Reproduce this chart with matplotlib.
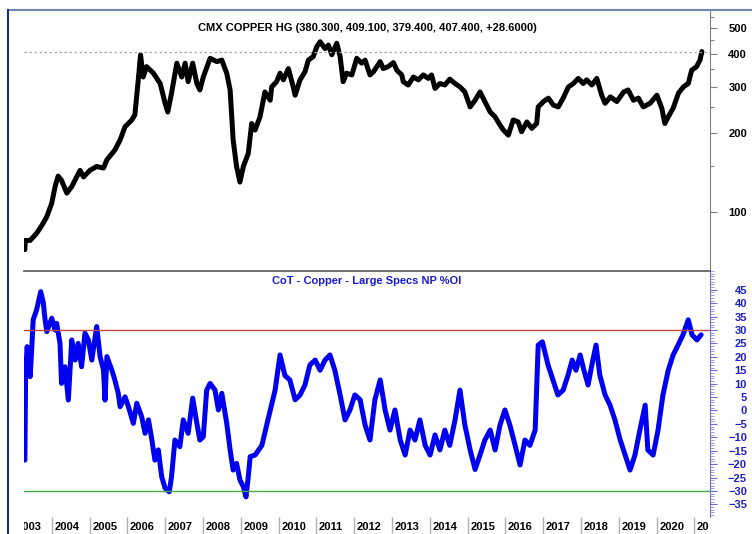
import matplotlib
matplotlib.use('Agg')
import matplotlib.pyplot as plt
import matplotlib.ticker as plticker
from matplotlib.lines import Line2D
from matplotlib.transforms import Bbox, TransformedBbox, blended_transform_factory

plt.rcParams['font.family'] = ['Liberation Sans', 'DejaVu Sans']
plt.rcParams['font.weight'] = 'bold'

# weekly-ish copper close (cents/lb), decimal years
px_t = [2003.29, 2003.30, 2003.43, 2003.60, 2003.74, 2003.87, 2004.00, 2004.09, 2004.17, 2004.26,
        2004.40, 2004.53, 2004.75, 2004.84, 2005.01, 2005.19, 2005.37, 2005.46, 2005.67, 2005.81,
        2005.94, 2006.12, 2006.20, 2006.29, 2006.35, 2006.42, 2006.51, 2006.69, 2006.87, 2007.00,
        2007.07, 2007.17, 2007.31, 2007.44, 2007.53, 2007.61, 2007.73, 2007.84, 2007.92, 2008.01,
        2008.19, 2008.37, 2008.50, 2008.63, 2008.72, 2008.80, 2008.89, 2008.98, 2009.07, 2009.20,
        2009.29, 2009.38, 2009.51, 2009.64, 2009.78, 2009.82, 2009.95, 2010.04, 2010.13, 2010.26,
        2010.39, 2010.44, 2010.57, 2010.70, 2010.79, 2010.92, 2011.01, 2011.10, 2011.23, 2011.32,
        2011.41, 2011.54, 2011.63, 2011.71, 2011.80, 2011.94, 2012.07, 2012.20, 2012.29, 2012.42,
        2012.51, 2012.69, 2012.77, 2012.90, 2013.04, 2013.13, 2013.26, 2013.30, 2013.43, 2013.57,
        2013.70, 2013.83, 2013.96, 2014.05, 2014.14, 2014.27, 2014.40, 2014.53, 2014.67, 2014.80,
        2014.93, 2015.07, 2015.20, 2015.33, 2015.46, 2015.60, 2015.73, 2015.86, 2015.95, 2016.08,
        2016.21, 2016.34, 2016.43, 2016.57, 2016.70, 2016.83, 2016.87, 2017.01, 2017.14, 2017.27,
        2017.40, 2017.53, 2017.67, 2017.80, 2017.93, 2018.06, 2018.15, 2018.29, 2018.42, 2018.55,
        2018.64, 2018.78, 2018.95, 2019.13, 2019.25, 2019.39, 2019.52, 2019.65, 2019.83, 2020.01,
        2020.14, 2020.22, 2020.31, 2020.44, 2020.58, 2020.71, 2020.84, 2020.93, 2021.06, 2021.15,
        2021.20]
px = [72, 78, 78, 83, 89, 96, 108, 125, 137, 132,
      118, 125, 144, 136, 144, 149, 147, 158, 172, 188,
      211, 224, 234, 318, 396, 326, 357, 337, 308, 259,
      240, 283, 368, 326, 368, 313, 368, 308, 291, 326,
      384, 373, 378, 337, 291, 188, 149, 130, 149, 167,
      217, 205, 230, 286, 266, 299, 313, 337, 318, 351,
      299, 278, 318, 341, 378, 390, 424, 444, 418, 431,
      396, 438, 390, 313, 337, 332, 384, 368, 378, 332,
      341, 373, 351, 357, 370, 346, 332, 313, 304, 326,
      318, 332, 322, 332, 295, 308, 304, 320, 308, 299,
      286, 251, 266, 286, 263, 240, 230, 214, 205, 196,
      224, 220, 202, 220, 208, 217, 251, 263, 271, 255,
      251, 271, 299, 308, 322, 308, 318, 304, 322, 278,
      259, 274, 263, 286, 291, 266, 271, 251, 259, 278,
      248, 217, 230, 248, 283, 299, 308, 346, 357, 378,
      407.4]
last_px = 407.4

# CoT large speculators net position, % of open interest
cot_t = [2003.29, 2003.31, 2003.35, 2003.43, 2003.47, 2003.51, 2003.60, 2003.71, 2003.78, 2003.82,
         2003.87, 2004.00, 2004.09, 2004.13, 2004.22, 2004.26, 2004.35, 2004.44, 2004.53, 2004.62,
         2004.70, 2004.79, 2004.88, 2004.97, 2005.06, 2005.19, 2005.28, 2005.37, 2005.41, 2005.46,
         2005.59, 2005.67, 2005.76, 2005.81, 2005.94, 2006.03, 2006.16, 2006.25, 2006.38, 2006.47,
         2006.56, 2006.65, 2006.73, 2006.82, 2006.91, 2007.00, 2007.11, 2007.17, 2007.26, 2007.39,
         2007.48, 2007.61, 2007.73, 2007.84, 2007.92, 2008.01, 2008.10, 2008.19, 2008.32, 2008.41,
         2008.50, 2008.63, 2008.72, 2008.80, 2008.89, 2008.98, 2009.07, 2009.14, 2009.20, 2009.25,
         2009.38, 2009.56, 2009.72, 2009.91, 2010.04, 2010.17, 2010.30, 2010.44, 2010.57, 2010.70,
         2010.83, 2010.97, 2011.10, 2011.23, 2011.36, 2011.49, 2011.63, 2011.76, 2011.89, 2012.02,
         2012.16, 2012.29, 2012.42, 2012.55, 2012.69, 2012.82, 2012.95, 2013.08, 2013.22, 2013.35,
         2013.48, 2013.61, 2013.74, 2013.88, 2014.01, 2014.14, 2014.27, 2014.40, 2014.53, 2014.67,
         2014.80, 2014.93, 2015.07, 2015.20, 2015.33, 2015.46, 2015.60, 2015.73, 2015.86, 2015.99,
         2016.12, 2016.26, 2016.39, 2016.52, 2016.65, 2016.79, 2016.87, 2016.98, 2017.13, 2017.26,
         2017.39, 2017.53, 2017.66, 2017.77, 2017.87, 2017.98, 2018.08, 2018.19, 2018.29, 2018.40,
         2018.50, 2018.64, 2018.77, 2018.90, 2019.04, 2019.17, 2019.30, 2019.43, 2019.56, 2019.70,
         2019.77, 2019.91, 2020.04, 2020.17, 2020.31, 2020.44, 2020.57, 2020.70, 2020.84, 2020.94,
         2021.07, 2021.18]
cot = [-18.5, 13.9, 23.8, 12.6, 22.6, 33.8, 37.5, 44.3, 40, 34.4,
       29.4, 34.4, 30, 32.5, 25, 10.1, 16.3, 3.9, 26.3, 18.8,
       25, 16.3, 28.8, 26.3, 18.8, 31.3, 20.1, 15.1, 3.9, 20.1,
       15.1, 11.4, 6.4, 1.4, 5.1, 1.4, -4.8, 2.7, -2.3, -8.5,
       -3.5, -11, -18.5, -14.7, -24.7, -29, -30.3, -24.7, -11, -13.5,
       -3.5, -8.5, 4.6, -4.8, -11, -9.8, 7.6, 10.1, 7.6, 0.2,
       6.4, -4.8, -14.7, -22.2, -19.7, -25.9, -28.4, -32.2, -24.7, -17.2,
       -16.6, -13, -3.5, 7.6, 20.7, 13, 11.4, 4, 5.8, 9.5,
       17, 18.8, 15, 18.8, 20.7, 15, 5.8, -3.5, 0.2, 5.8,
       4, -5.4, -11, 4, 11.4, 0.2, -7.3, 0.2, -11, -16.6,
       -7.3, -11, -3.5, -13, -16.6, -9.1, -14.7, -7.3, -13, -3.5,
       7.6, -5.4, -14.7, -22, -16.6, -11, -7.3, -14.7, -5.4, 0.2,
       -5.4, -13, -20.3, -11, -13, -7.3, 24.4, 25.6, 17, 11.4,
       5.8, 7.6, 13.2, 18.8, 15, 20.7, 15, 9.5, 17, 24.4,
       13.2, 5.8, 2, -3.5, -11, -16.6, -22.2, -16.6, -7.3, 2,
       -14.7, -16.6, -7.3, 5.8, 15, 20.7, 24.4, 28.2, 33.8, 28.2,
       26.3, 28.2]

years = list(range(2003, 2022))
year_labels = [str(y) if y < 2021 else '20' for y in years]
px_ticks = [100, 200, 300, 400, 500]
cot_ticks = list(range(-35, 50, 5))
upper_band = 30
lower_band = -30

W, H = 752, 534
fig = plt.figure(figsize=(W / 100, H / 100), dpi=100)
ax1 = fig.add_axes([24 / W, 1 - 271 / H, 686 / W, 261 / H])
ax2 = fig.add_axes([24 / W, 1 - 517 / H, 686 / W, 246 / H], sharex=ax1)

xmin, xmax = 2003.267, 2021.415

# price panel
ax1.plot(px_t, px, color='black', lw=3.6, solid_joinstyle='round', solid_capstyle='round')
ax1.axhline(last_px, color='#a8a8a8', lw=0.9, linestyle=(0, (2, 2)))
ax1.set_yscale('log')
ax1.set_ylim(59.7, 586)
ax1.yaxis.tick_right()
ax1.yaxis.set_major_locator(plticker.FixedLocator(px_ticks))
ax1.yaxis.set_major_formatter(plticker.FixedFormatter([str(v) for v in px_ticks]))
ax1.yaxis.set_minor_locator(plticker.FixedLocator([150, 250, 350, 450, 550]))
ax1.yaxis.set_minor_formatter(plticker.NullFormatter())
ax1.tick_params(axis='y', which='major', length=5, width=0.8, color='#808080', pad=21.6,
                labelsize=8, labelcolor='black')
ax1.tick_params(axis='y', which='minor', length=3, width=0.8, color='#808080')
for lbl in ax1.get_yticklabels():
    lbl.set_horizontalalignment('right')
    lbl.set_fontweight('bold')
ax1.tick_params(axis='x', which='both', bottom=False, labelbottom=False)
for s in ['top', 'left', 'bottom']:
    ax1.spines[s].set_visible(False)
ax1.spines['right'].set_color('#808080')
ax1.text(0.5, 1 - 18 / 261, 'CMX COPPER HG (380.300, 409.100, 379.400, 407.400, +28.6000)',
         transform=ax1.transAxes, ha='center', va='center', fontsize=8, fontweight='bold')

# CoT panel
ax2.plot(cot_t, cot, color='#0000f0', lw=3.6, solid_joinstyle='round', solid_capstyle='round')
ax2.axhline(upper_band, color='#c04848', lw=1)
ax2.axhline(lower_band, color='#48a848', lw=1)
ax2.set_ylim(-39.7, 52)
ax2.yaxis.tick_right()
ax2.yaxis.set_major_locator(plticker.FixedLocator(cot_ticks))
ax2.yaxis.set_minor_locator(plticker.MultipleLocator(1))
ax2.tick_params(axis='y', which='major', length=5, width=0.8, color='#6a6ad8', pad=21.6,
                labelsize=8, labelcolor='#2020c8')
ax2.tick_params(axis='y', which='minor', length=3, width=0.6, color='#8a8ae0')
for lbl in ax2.get_yticklabels():
    lbl.set_horizontalalignment('right')
    lbl.set_fontweight('bold')
for s in ['left', 'bottom']:
    ax2.spines[s].set_visible(False)
ax2.spines['top'].set_color('#555555')
ax2.spines['top'].set_linewidth(1.2)
ax2.spines['right'].set_color('#7070d0')
ax2.text(0.5, 1 - 10 / 246, 'CoT - Copper - Large Specs NP %OI', transform=ax2.transAxes,
         ha='center', va='center', fontsize=8, fontweight='bold', color='#1a1ad0')

# year axis: separators and left-aligned labels
ax2.set_xticks(years[1:])
ax2.tick_params(axis='x', which='major', direction='out', length=12, width=1,
                color='#b0b0b0', labelbottom=False)
ax2.tick_params(axis='x', which='minor', bottom=False)
ax1.set_xlim(xmin, xmax)
trans = blended_transform_factory(ax2.transData, fig.transFigure)
clip = TransformedBbox(Bbox.from_extents(24 / W, 0, 1, 1), fig.transFigure)
for y, lab in zip(years, year_labels):
    t = fig.text(y + 0.07, 1 - 527 / H, lab, transform=trans, ha='left', va='center',
                 fontsize=8, fontweight='bold')
    t.set_clip_box(clip)
    t.set_clip_on(True)

# outer chart frame
fig.add_artist(Line2D([8 / W, 1], [1 - 10 / H, 1 - 10 / H], transform=fig.transFigure,
                      color='#7088b0', lw=1.5))
fig.add_artist(Line2D([8 / W, 8 / W], [0, 1 - 10 / H], transform=fig.transFigure,
                      color='#1c2e7c', lw=1.5))

fig.savefig('out.png', dpi=100)
